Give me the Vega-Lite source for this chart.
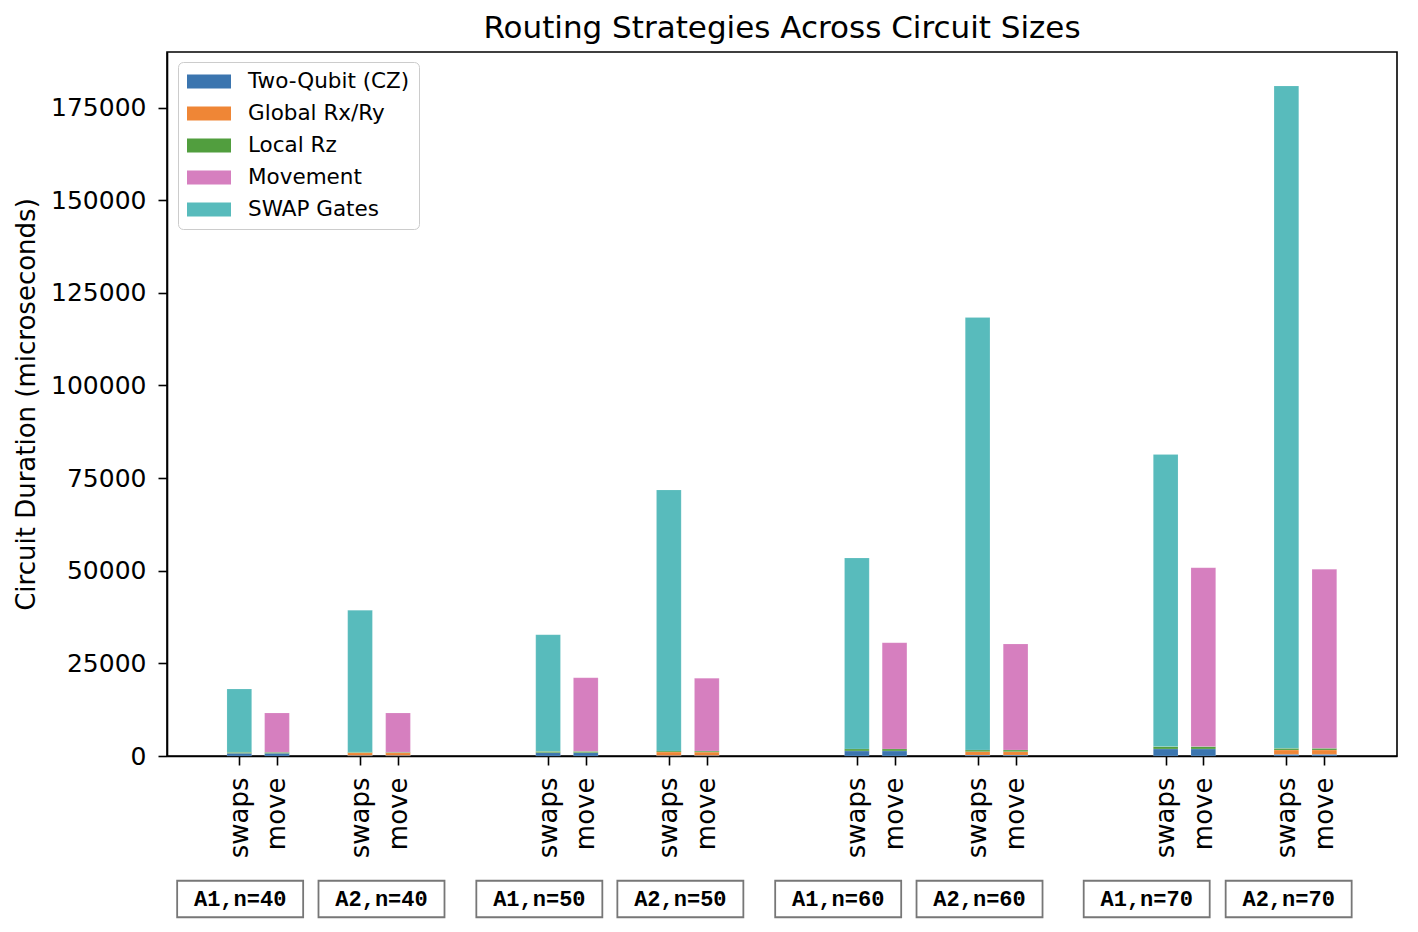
{
  "$schema": "https://vega.github.io/schema/vega-lite/v6.json",
  "background": "white",
  "padding": {"left": 12, "top": 12, "right": 21, "bottom": 10},
  "config": {"font": "DejaVu Sans", "view": {"stroke": null}, "concat": {"spacing": 18}},
  "datasets": {
    "bars": [
      {"bar": "A1 n=40 swaps", "pos": -0.257, "component": "Two-Qubit (CZ)", "rank": 1, "duration": 730},
      {"bar": "A1 n=40 swaps", "pos": -0.257, "component": "Local Rz", "rank": 3, "duration": 270},
      {"bar": "A1 n=40 swaps", "pos": -0.257, "component": "SWAP Gates", "rank": 5, "duration": 17085},
      {"bar": "A1 n=40 move", "pos": -0.135, "component": "Two-Qubit (CZ)", "rank": 1, "duration": 730},
      {"bar": "A1 n=40 move", "pos": -0.135, "component": "Local Rz", "rank": 3, "duration": 270},
      {"bar": "A1 n=40 move", "pos": -0.135, "component": "Movement", "rank": 4, "duration": 10607},
      {"bar": "A2 n=40 swaps", "pos": 0.134, "component": "Two-Qubit (CZ)", "rank": 1, "duration": 150},
      {"bar": "A2 n=40 swaps", "pos": 0.134, "component": "Global Rx/Ry", "rank": 2, "duration": 730},
      {"bar": "A2 n=40 swaps", "pos": 0.134, "component": "Local Rz", "rank": 3, "duration": 150},
      {"bar": "A2 n=40 swaps", "pos": 0.134, "component": "SWAP Gates", "rank": 5, "duration": 38295},
      {"bar": "A2 n=40 move", "pos": 0.257, "component": "Two-Qubit (CZ)", "rank": 1, "duration": 150},
      {"bar": "A2 n=40 move", "pos": 0.257, "component": "Global Rx/Ry", "rank": 2, "duration": 730},
      {"bar": "A2 n=40 move", "pos": 0.257, "component": "Local Rz", "rank": 3, "duration": 150},
      {"bar": "A2 n=40 move", "pos": 0.257, "component": "Movement", "rank": 4, "duration": 10577},
      {"bar": "A1 n=50 swaps", "pos": 0.743, "component": "Two-Qubit (CZ)", "rank": 1, "duration": 900},
      {"bar": "A1 n=50 swaps", "pos": 0.743, "component": "Local Rz", "rank": 3, "duration": 350},
      {"bar": "A1 n=50 swaps", "pos": 0.743, "component": "SWAP Gates", "rank": 5, "duration": 31490},
      {"bar": "A1 n=50 move", "pos": 0.865, "component": "Two-Qubit (CZ)", "rank": 1, "duration": 900},
      {"bar": "A1 n=50 move", "pos": 0.865, "component": "Local Rz", "rank": 3, "duration": 350},
      {"bar": "A1 n=50 move", "pos": 0.865, "component": "Movement", "rank": 4, "duration": 19880},
      {"bar": "A2 n=50 swaps", "pos": 1.134, "component": "Two-Qubit (CZ)", "rank": 1, "duration": 150},
      {"bar": "A2 n=50 swaps", "pos": 1.134, "component": "Global Rx/Ry", "rank": 2, "duration": 900},
      {"bar": "A2 n=50 swaps", "pos": 1.134, "component": "Local Rz", "rank": 3, "duration": 270},
      {"bar": "A2 n=50 swaps", "pos": 1.134, "component": "SWAP Gates", "rank": 5, "duration": 70480},
      {"bar": "A2 n=50 move", "pos": 1.257, "component": "Two-Qubit (CZ)", "rank": 1, "duration": 150},
      {"bar": "A2 n=50 move", "pos": 1.257, "component": "Global Rx/Ry", "rank": 2, "duration": 900},
      {"bar": "A2 n=50 move", "pos": 1.257, "component": "Local Rz", "rank": 3, "duration": 270},
      {"bar": "A2 n=50 move", "pos": 1.257, "component": "Movement", "rank": 4, "duration": 19650},
      {"bar": "A1 n=60 swaps", "pos": 1.743, "component": "Two-Qubit (CZ)", "rank": 1, "duration": 1370},
      {"bar": "A1 n=60 swaps", "pos": 1.743, "component": "Local Rz", "rank": 3, "duration": 550},
      {"bar": "A1 n=60 swaps", "pos": 1.743, "component": "SWAP Gates", "rank": 5, "duration": 51520},
      {"bar": "A1 n=60 move", "pos": 1.865, "component": "Two-Qubit (CZ)", "rank": 1, "duration": 1370},
      {"bar": "A1 n=60 move", "pos": 1.865, "component": "Local Rz", "rank": 3, "duration": 550},
      {"bar": "A1 n=60 move", "pos": 1.865, "component": "Movement", "rank": 4, "duration": 28660},
      {"bar": "A2 n=60 swaps", "pos": 2.134, "component": "Two-Qubit (CZ)", "rank": 1, "duration": 250},
      {"bar": "A2 n=60 swaps", "pos": 2.134, "component": "Global Rx/Ry", "rank": 2, "duration": 920},
      {"bar": "A2 n=60 swaps", "pos": 2.134, "component": "Local Rz", "rank": 3, "duration": 450},
      {"bar": "A2 n=60 swaps", "pos": 2.134, "component": "SWAP Gates", "rank": 5, "duration": 116730},
      {"bar": "A2 n=60 move", "pos": 2.257, "component": "Two-Qubit (CZ)", "rank": 1, "duration": 250},
      {"bar": "A2 n=60 move", "pos": 2.257, "component": "Global Rx/Ry", "rank": 2, "duration": 920},
      {"bar": "A2 n=60 move", "pos": 2.257, "component": "Local Rz", "rank": 3, "duration": 450},
      {"bar": "A2 n=60 move", "pos": 2.257, "component": "Movement", "rank": 4, "duration": 28610},
      {"bar": "A1 n=70 swaps", "pos": 2.743, "component": "Two-Qubit (CZ)", "rank": 1, "duration": 1900},
      {"bar": "A1 n=70 swaps", "pos": 2.743, "component": "Local Rz", "rank": 3, "duration": 640},
      {"bar": "A1 n=70 swaps", "pos": 2.743, "component": "SWAP Gates", "rank": 5, "duration": 78840},
      {"bar": "A1 n=70 move", "pos": 2.865, "component": "Two-Qubit (CZ)", "rank": 1, "duration": 1900},
      {"bar": "A1 n=70 move", "pos": 2.865, "component": "Local Rz", "rank": 3, "duration": 640},
      {"bar": "A1 n=70 move", "pos": 2.865, "component": "Movement", "rank": 4, "duration": 48280},
      {"bar": "A2 n=70 swaps", "pos": 3.134, "component": "Two-Qubit (CZ)", "rank": 1, "duration": 450},
      {"bar": "A2 n=70 swaps", "pos": 3.134, "component": "Global Rx/Ry", "rank": 2, "duration": 1170},
      {"bar": "A2 n=70 swaps", "pos": 3.134, "component": "Local Rz", "rank": 3, "duration": 450},
      {"bar": "A2 n=70 swaps", "pos": 3.134, "component": "SWAP Gates", "rank": 5, "duration": 178760},
      {"bar": "A2 n=70 move", "pos": 3.257, "component": "Two-Qubit (CZ)", "rank": 1, "duration": 450},
      {"bar": "A2 n=70 move", "pos": 3.257, "component": "Global Rx/Ry", "rank": 2, "duration": 1170},
      {"bar": "A2 n=70 move", "pos": 3.257, "component": "Local Rz", "rank": 3, "duration": 450},
      {"bar": "A2 n=70 move", "pos": 3.257, "component": "Movement", "rank": 4, "duration": 48320}
    ],
    "labels": [
      {"label": "A1,n=40", "pos": -0.240},
      {"label": "A2,n=40", "pos": 0.214},
      {"label": "A1,n=50", "pos": 0.721},
      {"label": "A2,n=50", "pos": 1.174},
      {"label": "A1,n=60", "pos": 1.681},
      {"label": "A2,n=60", "pos": 2.135},
      {"label": "A1,n=70", "pos": 2.672},
      {"label": "A2,n=70", "pos": 3.128}
    ]
  },
  "vconcat": [
    {
      "width": 1230,
      "height": 704,
      "title": {"text": "Routing Strategies Across Circuit Sizes", "fontSize": 31, "fontWeight": "normal", "color": "black", "frame": "group", "anchor": "middle", "baseline": "alphabetic", "offset": -17},
      "view": {"stroke": "black", "strokeWidth": 1.6},
      "data": {"name": "bars"},
      "mark": {"type": "bar", "size": 24.7, "stroke": "white", "strokeWidth": 0.4, "strokeOpacity": 0.35},
      "encoding": {
        "x": {
          "field": "pos", "type": "quantitative",
          "scale": {"domain": [-0.475, 3.476], "nice": false, "zero": false},
          "axis": {
            "title": null, "grid": false,
            "values": [-0.257, -0.135, 0.134, 0.257, 0.743, 0.865, 1.134, 1.257, 1.743, 1.865, 2.134, 2.257, 2.743, 2.865, 3.134, 3.257],
            "labelExpr": "abs(datum.value - round(datum.value)) > 0.2 ? (datum.value < round(datum.value) ? 'swaps' : 'move') : (datum.value < round(datum.value) ? 'move' : 'swaps')",
            "labelAngle": -90, "labelAlign": "right", "labelBaseline": "middle",
            "labelFontSize": 26, "labelColor": "black", "labelPadding": 12,
            "tickSize": 9, "tickWidth": 1.6, "tickColor": "black",
            "domainColor": "black", "domainWidth": 1.6, "labelOverlap": false, "labelFlush": false
          }
        },
        "y": {
          "field": "duration", "type": "quantitative", "stack": "zero",
          "scale": {"domain": [0, 190000], "nice": false},
          "axis": {
            "title": "Circuit Duration (microseconds)", "titleFontSize": 26, "titleFontWeight": "normal", "titleColor": "black", "titlePadding": 11,
            "values": [0, 25000, 50000, 75000, 100000, 125000, 150000, 175000], "format": "d",
            "grid": false, "labelFontSize": 25, "labelColor": "black", "labelPadding": 12,
            "tickSize": 9, "tickWidth": 1.6, "tickColor": "black",
            "domainColor": "black", "domainWidth": 1.6, "labelOverlap": false
          }
        },
        "order": {"field": "rank", "type": "quantitative", "sort": "ascending"},
        "color": {
          "field": "component", "type": "nominal",
          "scale": {
            "domain": ["Two-Qubit (CZ)", "Global Rx/Ry", "Local Rz", "Movement", "SWAP Gates"],
            "range": ["#3b75af", "#ef8636", "#519e3e", "#d67fbf", "#58bbbc"]
          },
          "legend": {
            "title": null, "orient": "none", "legendX": 11, "legendY": 10,
            "symbolType": "M-1,-0.32L1,-0.32L1,0.32L-1,0.32Z", "symbolSize": 1936, "clipHeight": 21,
            "symbolStrokeWidth": 0, "symbolOpacity": 1,
            "labelFontSize": 21.5, "labelColor": "black", "labelOffset": 17, "labelLimit": 400,
            "rowPadding": 10, "padding": 9,
            "strokeColor": "#cccccc", "fillColor": "rgba(255,255,255,0.8)", "cornerRadius": 5
          }
        }
      }
    },
    {
      "width": 1230,
      "height": 40,
      "data": {"name": "labels"},
      "layer": [
        {
          "mark": {"type": "point", "shape": "M-1,-0.29L1,-0.29L1,0.29L-1,0.29Z", "size": 15876, "filled": false, "stroke": "#777777", "strokeWidth": 1.8, "opacity": 1},
          "encoding": {
            "x": {"field": "pos", "type": "quantitative", "scale": {"domain": [-0.475, 3.476], "nice": false, "zero": false}, "axis": null}
          }
        },
        {
          "mark": {"type": "text", "font": "Liberation Mono", "fontWeight": "bold", "fontSize": 22, "color": "black", "baseline": "middle"},
          "encoding": {
            "x": {"field": "pos", "type": "quantitative", "scale": {"domain": [-0.475, 3.476], "nice": false, "zero": false}, "axis": null},
            "text": {"field": "label", "type": "nominal"}
          }
        }
      ]
    }
  ]
}
